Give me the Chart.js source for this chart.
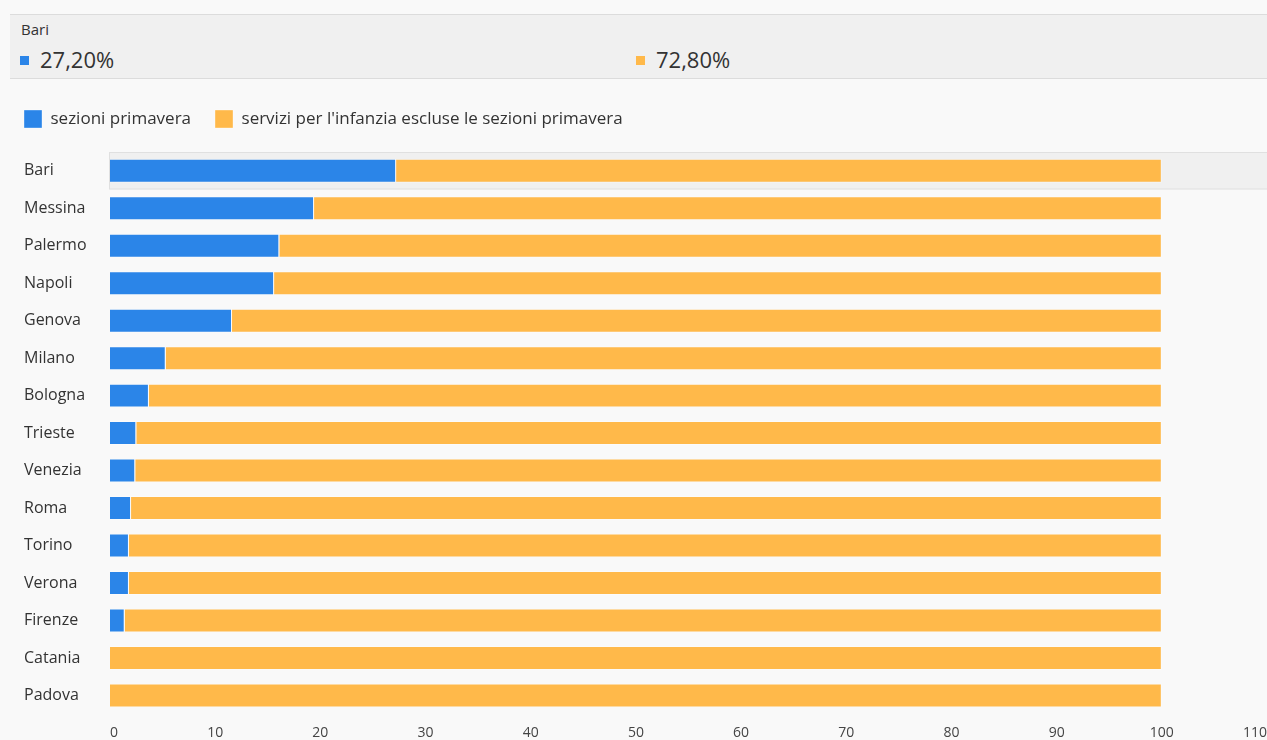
<!DOCTYPE html>
<html>
<head>
<meta charset="utf-8">
<script src="https://cdn.jsdelivr.net/npm/chart.js@4.4.1/dist/chart.umd.min.js"></script>
<style>
  html,body{margin:0;padding:0;background:#f9f9f9;overflow:hidden;font-family:"Open Sans",sans-serif;}
  #head{position:absolute;left:10px;top:14px;width:1257px;height:63px;background:#f0f0f0;
    border-top:1px solid #dcdcdc;border-bottom:1px solid #dcdcdc;}
  #head .city{position:absolute;left:11px;top:4px;font-size:15px;color:#333;}
  #head .val{position:absolute;top:29px;font-size:22px;line-height:30px;color:#333;}
  #head .val i{display:inline-block;width:9px;height:9px;margin-right:11px;vertical-align:middle;position:relative;top:-2px;}
  #box{position:absolute;left:0;top:86px;width:1267px;height:657px;}
</style>
</head>
<body>
<div id="head">
  <div class="city">Bari</div>
  <div class="val" style="left:10px"><i style="background:#2b85e8"></i>27,20%</div>
  <div class="val" style="left:626px"><i style="background:#ffb94a"></i>72,80%</div>
</div>
<div id="box"><canvas id="grafico"></canvas></div>
<script>
var citta=['Bari','Messina','Palermo','Napoli','Genova','Milano','Bologna','Trieste','Venezia','Roma','Torino','Verona','Firenze','Catania','Padova'];
var sezioniPrimavera=[27.2,19.4,16.1,15.6,11.6,5.3,3.7,2.5,2.4,2.0,1.8,1.8,1.4,0,0];
var altriServizi=[72.8,80.6,83.9,84.4,88.4,94.7,96.3,97.5,97.6,98.0,98.2,98.2,98.6,100,100];
var nomiSerie=['sezioni primavera',"servizi per l'infanzia escluse le sezioni primavera"];

// banda evidenziata sulla riga attiva (Bari)
var evidenzia={
  id:'evidenzia',
  beforeDatasetsDraw:function(chart){
    var ctx=chart.ctx, y=chart.scales.y, area=chart.chartArea;
    var passo=(y.bottom-y.top)/citta.length;
    var c=y.getPixelForValue(0);
    ctx.save();
    ctx.fillStyle='#f0f0f0';
    ctx.fillRect(area.left-1,c-passo/2,chart.width-area.left+1,passo);
    ctx.strokeStyle='#e0e0e0';
    ctx.lineWidth=1;
    ctx.strokeRect(area.left-0.5,c-passo/2+0.5,chart.width,passo-1);
    ctx.restore();
  }
};

// legenda: piu' spazio sotto e allineata a sinistra come le etichette
var spostaLegenda={
  id:'spostaLegenda',
  beforeInit:function(chart){
    var leg=chart.legend;
    if(!leg) return;
    var fit=leg.fit;
    leg.fit=function(){ fit.call(this); this.height+=14; };
  },
  afterLayout:function(chart){
    if(chart.legend){ chart.legend.left=0; }
  }
};

var ctx=document.getElementById('grafico');
var grafico=new Chart(ctx,{
  type:'bar',
  data:{
    labels:citta,
    datasets:[
      {label:nomiSerie[0],data:sezioniPrimavera,backgroundColor:'#2b85e8',borderColor:'rgba(255,255,255,0.35)',borderWidth:1,barPercentage:0.8,categoryPercentage:0.8},
      {label:nomiSerie[1],data:altriServizi,backgroundColor:'#ffb94a',borderColor:'rgba(255,255,255,0.35)',borderWidth:1,barPercentage:0.8,categoryPercentage:0.8}
    ]
  },
  options:{
    indexAxis:'y',
    responsive:true,
    maintainAspectRatio:false,
    animation:false,
    layout:{padding:{left:24,right:0,top:0,bottom:0}},
    plugins:{
      legend:{
        display:true,
        align:'start',
        labels:{boxWidth:18,boxHeight:18,padding:24,color:'#333',font:{family:'Open Sans',size:17}}
      },
      tooltip:{enabled:false}
    },
    scales:{
      x:{
        stacked:true,
        min:0,max:110,
        grid:{display:false},
        border:{display:false},
        ticks:{stepSize:10,align:'inner',color:'#444',font:{family:'Open Sans',size:14},padding:2},
        afterFit:function(s){s.paddingRight=0;s.paddingLeft=0;}
      },
      y:{
        stacked:true,
        grid:{display:false},
        border:{display:false},
        ticks:{crossAlign:'far',color:'#333',font:{family:'Open Sans',size:16}},
        afterFit:function(s){s.width=86;}
      }
    }
  },
  plugins:[evidenzia,spostaLegenda]
});
</script>
</body>
</html>
